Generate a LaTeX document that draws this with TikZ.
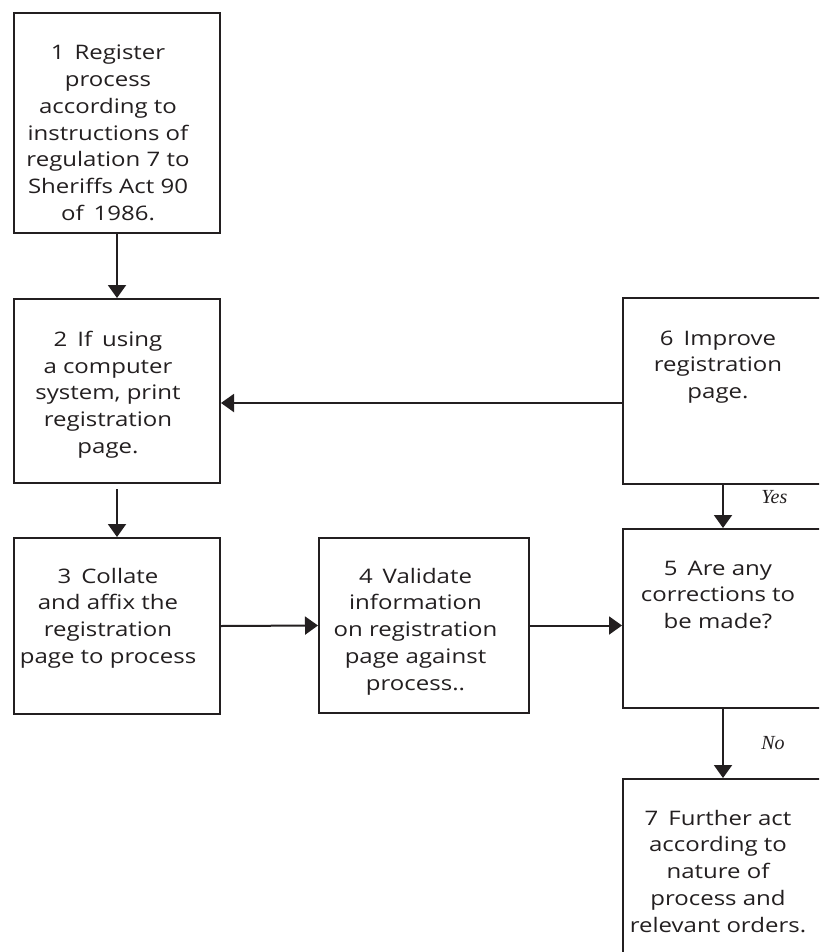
\documentclass[tikz,border=0pt]{standalone}
\usepackage{fontspec}
\setmainfont{Open Sans}[FakeStretch=1.2]
\newfontfamily\labelfont{Liberation Serif}
\usetikzlibrary{arrows.meta}
\definecolor{ink}{HTML}{231F20}
% #1 width, #2 height, #3 top gap, #4 right shift, #5 text
\newcommand\bxt[5]{\parbox[c][#2pt][t]{#1pt}{\centering\rightskip=#4pt plus 1fil\vspace*{#3pt}\rule{0pt}{15pt}#5\par}}
\begin{document}
\begin{tikzpicture}[x=1pt,y=-1pt,
  box/.style={draw=ink, line width=2pt, inner sep=0pt, anchor=north west, text=ink,
    font=\fontsize{20}{26.7}\selectfont},
  flow/.style={draw=ink, line width=2pt, -{Triangle[width=18pt,length=13pt]}},
  yn/.style={font=\labelfont\itshape\fontsize{20}{24}\selectfont, text=ink, anchor=west}]
\useasboundingbox (0,0) rectangle (819,952);
\clip (0,0) rectangle (819,952);
\fill[white] (0,0) rectangle (819,952);

\node[box] (b1) at (13,12) {\bxt{206}{220}{32}{18}{1\enspace Register\\process\\according to\\instructions of\\regulation 7 to\\Sheriffs Act 90\\of\enspace 1986.}};
\node[box] (b2) at (13,298) {\bxt{206}{184}{32}{18}{2\enspace If\enspace using\\a computer\\system, print\\registration\\page.}};
\node[box] (b3) at (13,537) {\bxt{206}{176}{30}{18}{3\enspace Collate\\and affix the\\registration\\page to process}};
\node[box] (b4) at (318,537) {\bxt{210}{175}{30}{17}{4\enspace Validate\\information\\on registration\\page against\\process..}};
\node[box] (b5) at (622,528) {\bxt{200}{179}{31}{10}{5\enspace Are any\\corrections to\\be made?}};
\node[box] (b6) at (622,297) {\bxt{200}{186}{32}{10}{6\enspace Improve\\registration\\page.}};
\node[box] (b7) at (622,778) {\bxt{200}{180}{31}{10}{7\enspace Further act\\according to\\nature of\\process and\\relevant orders.}};

\draw[flow] (b1.south) -- (b2.north);
\draw[flow, shorten <=5pt] (b2.south) -- (b3.north);
\draw[flow] (b3.east) -- (b4.east -| b4.west);
\draw[flow] (b4.east) -- (b4.east -| b5.west);
\draw[flow] ([yshift=-12pt]b6.west) -- ([yshift=-12pt]b6.west -| b2.east);
\draw[flow] (b6.south) -- node[yn, xshift=34pt, yshift=9pt] {Yes} (b5.north);
\draw[flow] (b5.south) -- node[yn, xshift=34pt] {No} (b7.north);
\end{tikzpicture}
\end{document}
